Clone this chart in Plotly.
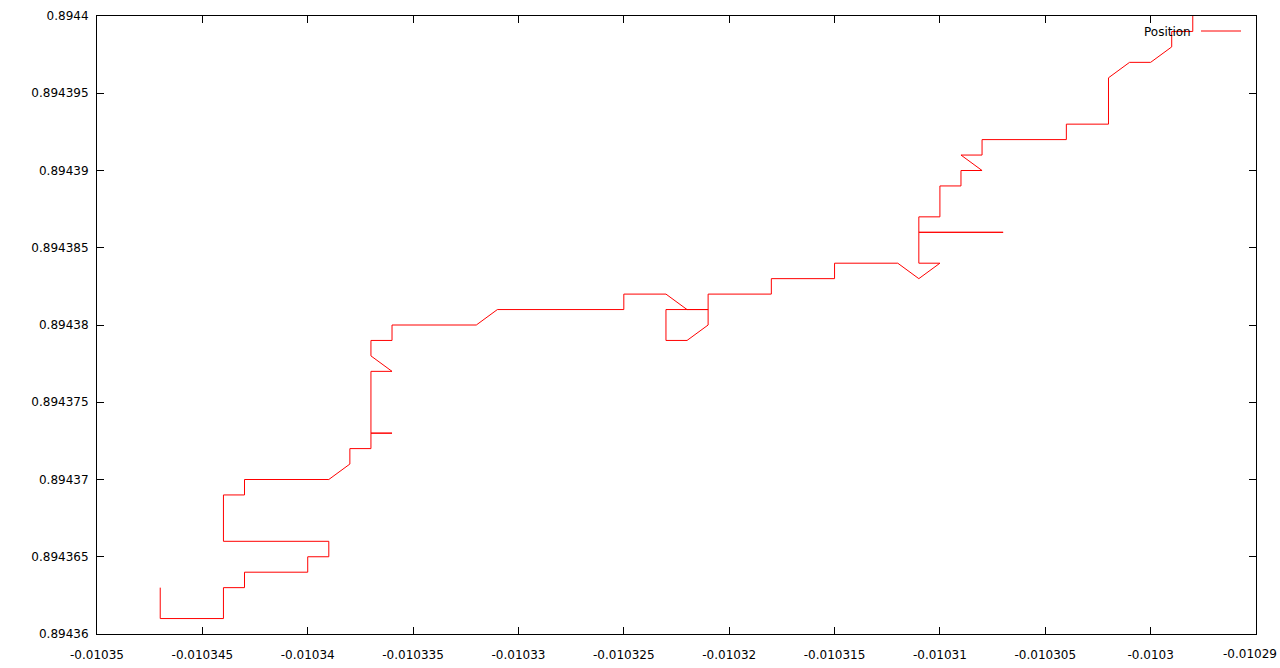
import plotly.graph_objects as go

# Track positions (longitude-like x, latitude-like y)
pos_x = [-0.010347, -0.010347, -0.010344, -0.010344, -0.010343, -0.010343,
         -0.010340, -0.010340, -0.010339, -0.010339, -0.010344, -0.010344,
         -0.010343, -0.010343, -0.010339, -0.010338, -0.010338, -0.010337,
         -0.010337, -0.010336, -0.010337, -0.010337, -0.010336, -0.010337,
         -0.010337, -0.010336, -0.010336, -0.010332, -0.010331, -0.010325,
         -0.010325, -0.010323, -0.010322, -0.010321, -0.010323, -0.010323,
         -0.010322, -0.010321, -0.010321, -0.010318, -0.010318, -0.010315,
         -0.010315, -0.010312, -0.010311, -0.010310, -0.010311, -0.010311,
         -0.010307, -0.010311, -0.010311, -0.010310, -0.010310, -0.010309,
         -0.010309, -0.010308, -0.010309, -0.010308, -0.010308, -0.010304,
         -0.010304, -0.010302, -0.010302, -0.010301, -0.010300, -0.010299,
         -0.010299, -0.010298, -0.010298]
pos_y = [0.894363, 0.894361, 0.894361, 0.894363, 0.894363, 0.894364,
         0.894364, 0.894365, 0.894365, 0.894366, 0.894366, 0.894369,
         0.894369, 0.894370, 0.894370, 0.894371, 0.894372, 0.894372,
         0.894373, 0.894373, 0.894373, 0.894377, 0.894377, 0.894378,
         0.894379, 0.894379, 0.894380, 0.894380, 0.894381, 0.894381,
         0.894382, 0.894382, 0.894381, 0.894381, 0.894381, 0.894379,
         0.894379, 0.894380, 0.894382, 0.894382, 0.894383, 0.894383,
         0.894384, 0.894384, 0.894383, 0.894384, 0.894384, 0.894386,
         0.894386, 0.894386, 0.894387, 0.894387, 0.894389, 0.894389,
         0.894390, 0.894390, 0.894391, 0.894391, 0.894392, 0.894392,
         0.894393, 0.894393, 0.894396, 0.894397, 0.894397, 0.894398,
         0.894399, 0.894399, 0.894400]

x_tick_vals = [-0.01035, -0.010345, -0.01034, -0.010335, -0.01033, -0.010325,
               -0.01032, -0.010315, -0.01031, -0.010305, -0.0103, -0.010295]
x_tick_text = ["-0.01035", "-0.010345", "-0.01034", "-0.010335", "-0.01033",
               "-0.010325", "-0.01032", "-0.010315", "-0.01031", "-0.010305",
               "-0.0103", "-0.01029"]
y_tick_vals = [0.89436, 0.894365, 0.89437, 0.894375, 0.89438, 0.894385,
               0.89439, 0.894395, 0.8944]
y_tick_text = ["0.89436", "0.894365", "0.89437", "0.894375", "0.89438",
               "0.894385", "0.89439", "0.894395", "0.8944"]
x_range = [-0.01035, -0.010295]
y_range = [0.89436, 0.8944]
series_name = "Position"

FONT = "DejaVu Sans"
L, R, T, B = 97, 24, 16, 34
W, H = 1280, 668
PW, PH = W - L - R, H - T - B


def px_x(p):
    return (p - L) / PW


def px_y(p):
    return (H - B - p) / PH


fig = go.Figure()
fig.add_trace(go.Scatter(
    x=pos_x, y=pos_y, mode="lines", name=series_name,
    line=dict(color="#ff0000", width=1),
    showlegend=False, hoverinfo="skip",
))

axis_common = dict(
    showline=True, linecolor="black", linewidth=1, mirror="ticks",
    ticks="inside", ticklen=7, tickwidth=1, tickcolor="black",
    showgrid=False, zeroline=False,
    tickfont=dict(family=FONT, size=12, color="black"),
    tickmode="array", automargin=False,
)

# the last x label sits against the right edge (as gnuplot shifts it inward),
# so it is drawn as an annotation; the tick itself stays on the axis
x_tick_labels_axis = x_tick_text[:-1] + [""]

eps_x = 1e-12  # keep the tick exactly at the range end
fig.update_layout(
    width=W, height=H,
    margin=dict(l=L, r=R, t=T, b=B),
    paper_bgcolor="white", plot_bgcolor="white",
    font=dict(family=FONT, size=12, color="black"),
    xaxis=dict(range=[x_range[0], x_range[1] + eps_x], tickvals=x_tick_vals,
               ticktext=x_tick_labels_axis, ticklabelstandoff=10,
               **axis_common),
    yaxis=dict(range=y_range, tickvals=y_tick_vals,
               ticktext=y_tick_text, ticklabelstandoff=5, **axis_common),
    annotations=[
        dict(text=series_name, xref="paper", yref="paper",
             x=px_x(1193), y=px_y(32), xanchor="right", yanchor="middle",
             showarrow=False, font=dict(family=FONT, size=12, color="black")),
        dict(text=x_tick_text[-1], xref="paper", yref="paper",
             x=px_x(1250), y=px_y(654), xanchor="center", yanchor="middle",
             showarrow=False, font=dict(family=FONT, size=12, color="black")),
    ],
    shapes=[dict(
        type="line", xref="paper", yref="paper",
        x0=px_x(1201), x1=px_x(1241), y0=px_y(31), y1=px_y(31),
        line=dict(color="#ff0000", width=1),
    )],
)

fig.write_html("out.html", config={"displayModeBar": False},
               post_script="document.body.style.margin='0';")
